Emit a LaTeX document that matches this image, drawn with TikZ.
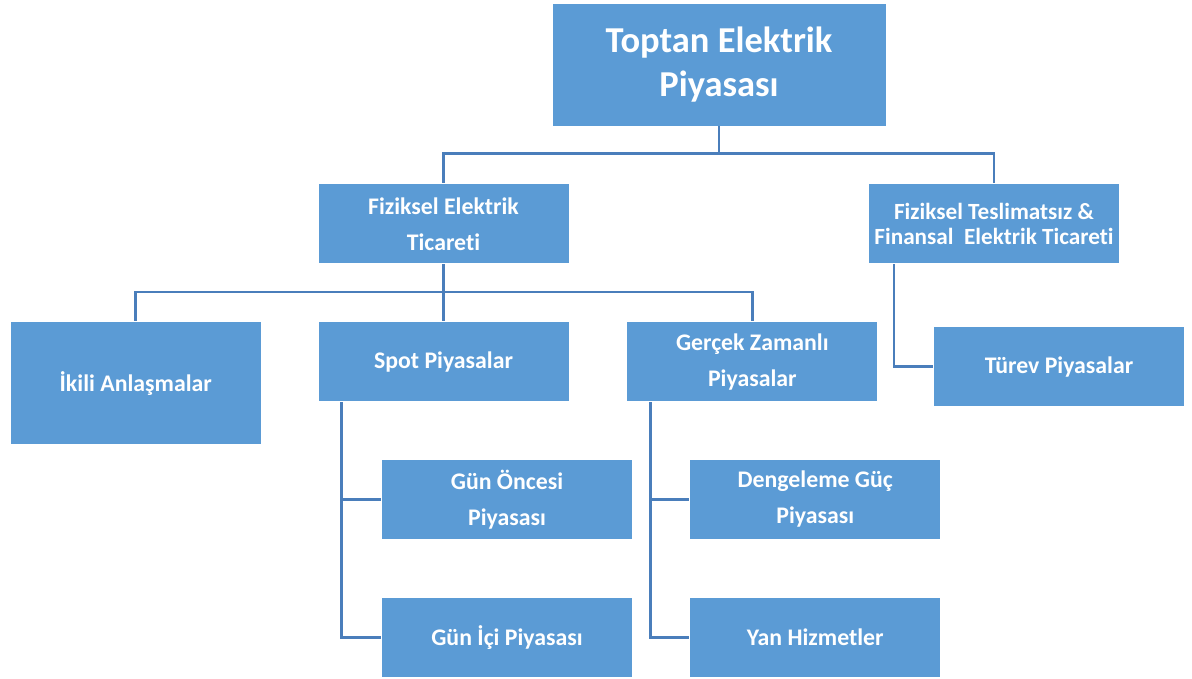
\documentclass[tikz,border=0pt]{standalone}
\usepackage{fontspec}
\setmainfont{Carlito}[Ligatures=NoCommon]
\usepackage{tikz}
\usetikzlibrary{positioning}
\definecolor{boxblue}{HTML}{5B9BD5}
\definecolor{lineblue}{HTML}{4A7EBB}
\tikzset{
box/.style={fill=boxblue, draw=white, line width=0.8pt, text=white, font=\bfseries\fontsize{23.8}{36}\selectfont, align=center, minimum width=251pt, minimum height=80pt, inner sep=0pt}, % sets the properties for each box
conn/.style={draw=lineblue, line width=2.6pt}, % sets the properties for each connector
}

\begin{document}
\begin{tikzpicture}
  \useasboundingbox (0,0) rectangle (1192pt,-679pt);
  % Boxes
  \node[box, minimum width=334pt, minimum height=123pt, font=\bfseries\fontsize{36.5}{44}\selectfont] (toptan) at (719pt,-64.5pt) {Toptan Elektrik\\Piyasası};
  \node[box, below=57pt of toptan, xshift=-275.5pt] (fiziksel) {Fiziksel Elektrik\\Ticareti};
  \node[box, below=57pt of toptan, xshift=275pt, font=\bfseries\fontsize{23.2}{25.5}\selectfont] (finansal) {Fiziksel Teslimatsız \&\\Finansal~ Elektrik Ticareti};
  \node[box, below=57pt of fiziksel] (spot) {Spot Piyasalar};
  \node[box, right=57pt of spot] (gercek) {Gerçek Zamanlı\\Piyasalar};
  \node[box, minimum height=123pt, left=56pt of spot.north west, anchor=north east] (ikili) {İkili Anlaşmalar};
  \node[box, below=62pt of finansal, xshift=65pt] (turev) {Türev Piyasalar};
  \node[box, below=57pt of spot, xshift=63.5pt] (gunonce) {Gün Öncesi\\Piyasası};
  \node[box, below=57pt of gunonce] (gunici) {Gün İçi Piyasası};
  \node[box, below=57pt of gercek, xshift=63pt] (dengeleme) {Dengeleme Güç\\Piyasası};
  \node[box, below=57pt of dengeleme] (yan) {Yan Hizmetler};

  % Connectors
  \path[conn]
    (toptan.south) -- ++(0,-27pt) -| (fiziksel.north)
    (toptan.south) -- ++(0,-27pt) -| (finansal.north)
    (fiziksel.south) -- ++(0,-28pt) -| (ikili.north)
    (fiziksel.south) -- (spot.north)
    (fiziksel.south) -- ++(0,-28pt) -| (gercek.north)
    ([xshift=26pt]finansal.south west) |- (turev.west)
    ([xshift=24pt]spot.south west) |- (gunonce.west)
    ([xshift=24pt]spot.south west) |- (gunici.west)
    ([xshift=24pt]gercek.south west) |- (dengeleme.west)
    ([xshift=24pt]gercek.south west) |- (yan.west);
\end{tikzpicture}
\end{document}
